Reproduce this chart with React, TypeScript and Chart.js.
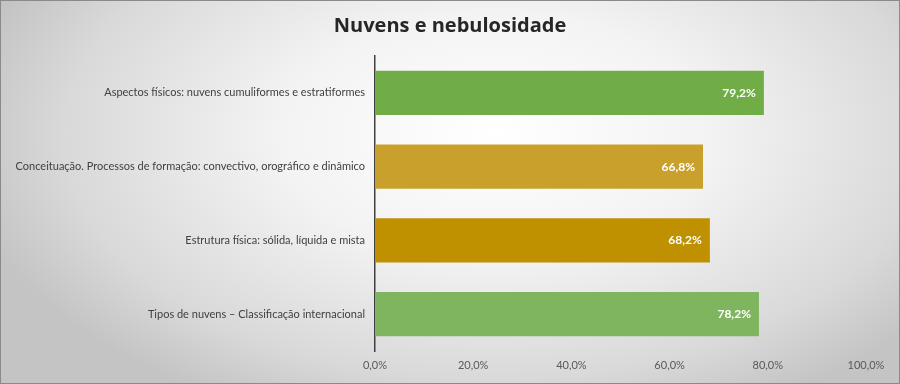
import React, { useEffect, useRef } from "react";
import { Chart, registerables } from "chart.js";

Chart.register(...registerables);

const titleText = "Nuvens e nebulosidade";
const categories = [
  "Aspectos físicos: nuvens cumuliformes e estratiformes",
  "Conceituação. Processos de formação: convectivo, orográfico e dinâmico",
  "Estrutura física: sólida, líquida e mista",
  "Tipos de nuvens – Classificação internacional",
];
const values = [79.2, 66.8, 68.2, 78.2];
const barColors = ["#70AD47", "#C9A02B", "#BF9000", "#80B55F"];
const xMin = 0;
const xMax = 100;
const xStep = 20;

const fmt = (v: number) => v.toFixed(1).replace(".", ",") + "%";

const labelFont = "Lato, 'Open Sans', sans-serif";

const valueLabelPlugin = {
  id: "valueLabels",
  afterDatasetsDraw(chart: any) {
    const ctx = chart.ctx;
    const meta = chart.getDatasetMeta(0);
    ctx.save();
    ctx.fillStyle = "#ffffff";
    ctx.font = `bold 12px ${labelFont}`;
    ctx.textAlign = "right";
    ctx.textBaseline = "middle";
    meta.data.forEach((bar: any, i: number) => {
      ctx.fillText(fmt(values[i]), bar.x - 8, bar.y);
    });
    ctx.restore();
  },
};

const centeredTitlePlugin = {
  id: "centeredTitle",
  afterDraw(chart: any) {
    const ctx = chart.ctx;
    ctx.save();
    ctx.fillStyle = "#262626";
    ctx.font = "bold 20px 'Open Sans', Lato, sans-serif";
    ctx.textAlign = "center";
    ctx.textBaseline = "middle";
    ctx.fillText(titleText, chart.width / 2, 26);
    ctx.restore();
  },
};

export default function App() {
  const ref = useRef<HTMLCanvasElement | null>(null);
  useEffect(() => {
    document.body.style.margin = "0";
    if (!ref.current) return;
    const chart = new Chart(ref.current, {
      type: "bar",
      data: {
        labels: categories,
        datasets: [
          {
            data: values,
            backgroundColor: barColors,
            borderWidth: 0,
            barPercentage: 0.6,
            categoryPercentage: 1,
          },
        ],
      },
      options: {
        indexAxis: "y",
        animation: false,
        responsive: false,
        maintainAspectRatio: false,
        layout: { padding: { left: 0, right: 34, top: 56, bottom: 0 } },
        plugins: {
          legend: { display: false },
          tooltip: { enabled: false },
          title: { display: false },
        },
        scales: {
          x: {
            min: xMin,
            max: xMax,
            ticks: {
              stepSize: xStep,
              callback: (v: any) => fmt(Number(v)),
              color: "#595959",
              font: { size: 11, family: labelFont },
              padding: 8,
              maxRotation: 0,
            },
            grid: { display: false, drawTicks: false },
            border: { display: false },
            afterFit: (scale: any) => {
              scale.height = 33;
            },
          },
          y: {
            ticks: {
              color: "#404040",
              font: { size: 11, family: labelFont },
              padding: 10,
            },
            grid: { display: false, drawTicks: false },
            border: { display: true, color: "#404040", width: 1.5 },
            afterFit: (scale: any) => {
              scale.width = 375;
            },
          },
        },
      },
      plugins: [valueLabelPlugin, centeredTitlePlugin],
    });
    return () => chart.destroy();
  }, []);

  return (
    <div
      style={{
        width: 900,
        height: 384,
        boxSizing: "border-box",
        border: "1px solid #8a8a8a",
        background:
          "radial-gradient(ellipse 60% 80% at 55% 35%, #ffffff 0%, #f3f3f3 40%, #d9d9d9 80%, #c4c4c4 100%)",
        position: "relative",
        overflow: "hidden",
      }}
    >
      <canvas
        ref={ref}
        width={900}
        height={384}
        style={{ position: "absolute", left: -1, top: -1, width: 900, height: 384 }}
      />
    </div>
  );
}
